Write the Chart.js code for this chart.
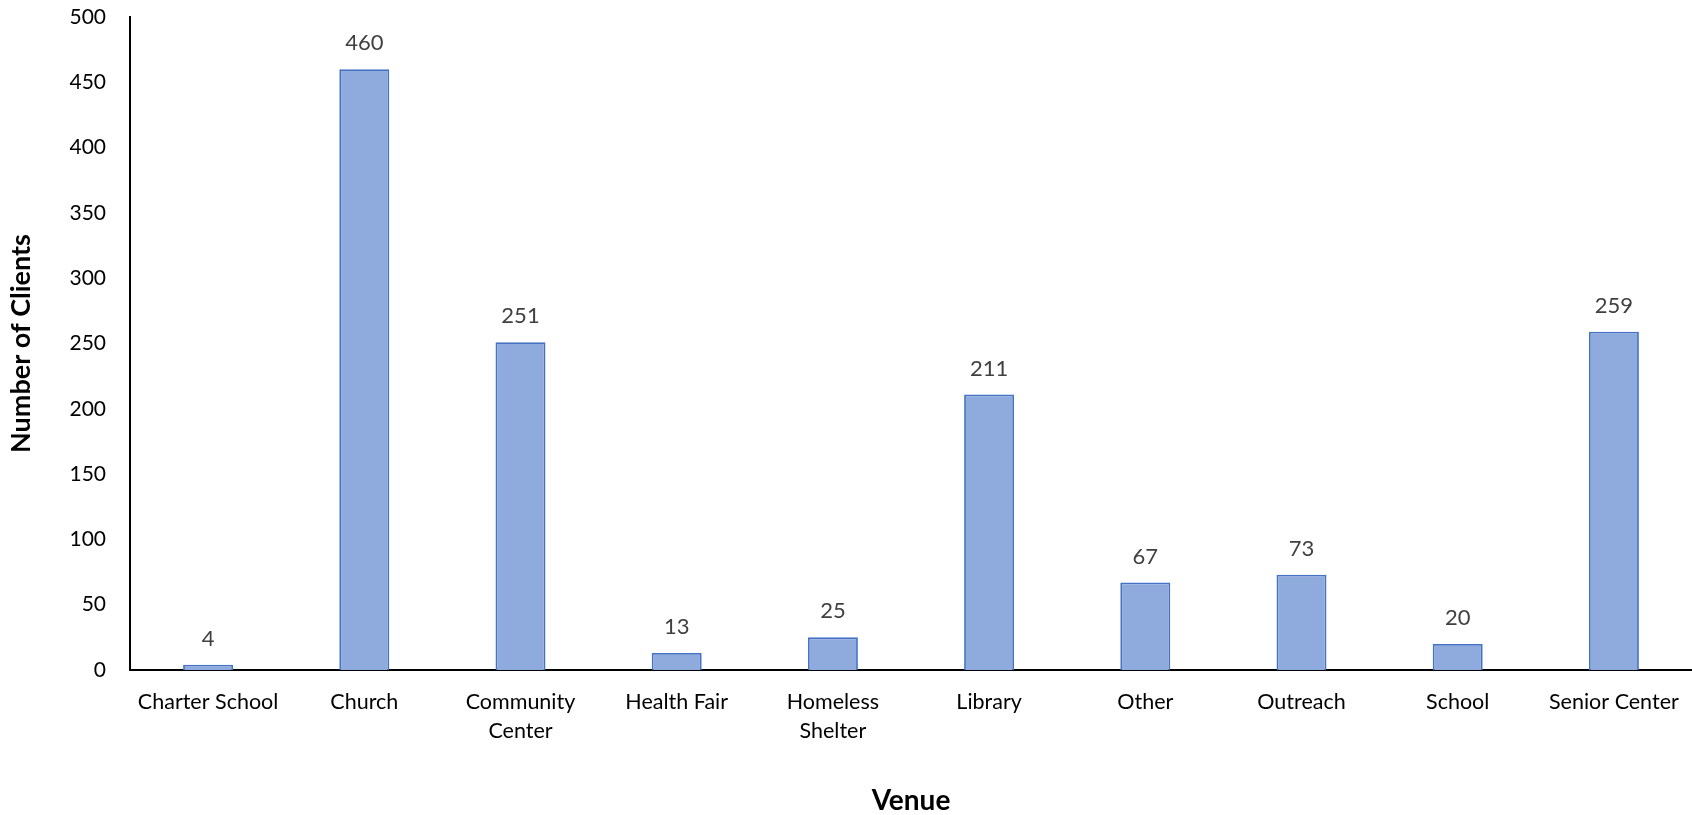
<!DOCTYPE html>
<html>
<head>
<meta charset="utf-8">
<script src="https://cdn.jsdelivr.net/npm/chart.js@4/dist/chart.umd.min.js"></script>
<style>
  html, body { margin: 0; padding: 0; background: #fff; }
  #wrap { width: 1692px; height: 815px; position: relative; }
</style>
</head>
<body>
<div id="wrap"><canvas id="c"></canvas></div>
<script>
const categories = ["Charter School", ["Church"], ["Community", "Center"], "Health Fair", ["Homeless", "Shelter"], "Library", "Other", "Outreach", "School", "Senior Center"];
const clients = [4, 460, 251, 13, 25, 211, 67, 73, 20, 259];
const yTicks = [0, 50, 100, 150, 200, 250, 300, 350, 400, 450, 500];
const yTitle = "Number of Clients";
const xTitle = "Venue";

const FONT = "Lato, 'Open Sans', sans-serif";

const valueLabels = {
  id: 'valueLabels',
  afterDatasetsDraw(chart) {
    const ctx = chart.ctx;
    const meta = chart.getDatasetMeta(0);
    ctx.save();
    ctx.font = "22px " + FONT;
    ctx.fillStyle = "#404040";
    ctx.textAlign = "center";
    ctx.textBaseline = "middle";
    meta.data.forEach((bar, i) => {
      ctx.fillText(String(clients[i]), bar.x, bar.y - 26);
    });
    ctx.restore();
  }
};

new Chart(document.getElementById('c'), {
  type: 'bar',
  data: {
    labels: categories,
    datasets: [{
      data: clients,
      backgroundColor: '#8FAADC',
      borderColor: '#4472C4',
      borderWidth: 1.8,
      categoryPercentage: 1,
      barPercentage: 0.32
    }]
  },
  options: {
    responsive: true,
    maintainAspectRatio: false,
    animation: false,
    layout: { padding: { top: 17, right: 0, left: 0, bottom: 0 } },
    plugins: {
      legend: { display: false },
      tooltip: { enabled: false }
    },
    scales: {
      x: {
        grid: { display: false },
        border: { display: true, color: '#000', width: 2 },
        ticks: { color: '#000', font: { family: FONT, size: 21.5, lineHeight: 1.35 }, padding: 10, maxRotation: 0, autoSkip: false },
        title: { display: true, text: xTitle, color: '#000', font: { family: FONT, size: 28, weight: 'bold' }, padding: { top: 0, bottom: -3 } },
        afterFit(scale) { scale.height = 145; scale.paddingLeft = 0; scale.paddingRight = 0; }
      },
      y: {
        min: 0, max: 500,
        afterBuildTicks(scale) { scale.ticks = yTicks.map(v => ({ value: v })); },
        grid: { display: false },
        border: { display: true, color: '#000', width: 2 },
        ticks: { color: '#000', font: { family: FONT, size: 21 }, padding: 16 },
        title: { display: true, text: yTitle, color: '#000', font: { family: FONT, size: 27, weight: 'bold' }, padding: { top: 5, bottom: 0 } },
        afterFit(scale) { scale.width = 130; scale.paddingTop = 0; scale.paddingBottom = 0; }
      }
    }
  },
  plugins: [valueLabels]
});
</script>
</body>
</html>
